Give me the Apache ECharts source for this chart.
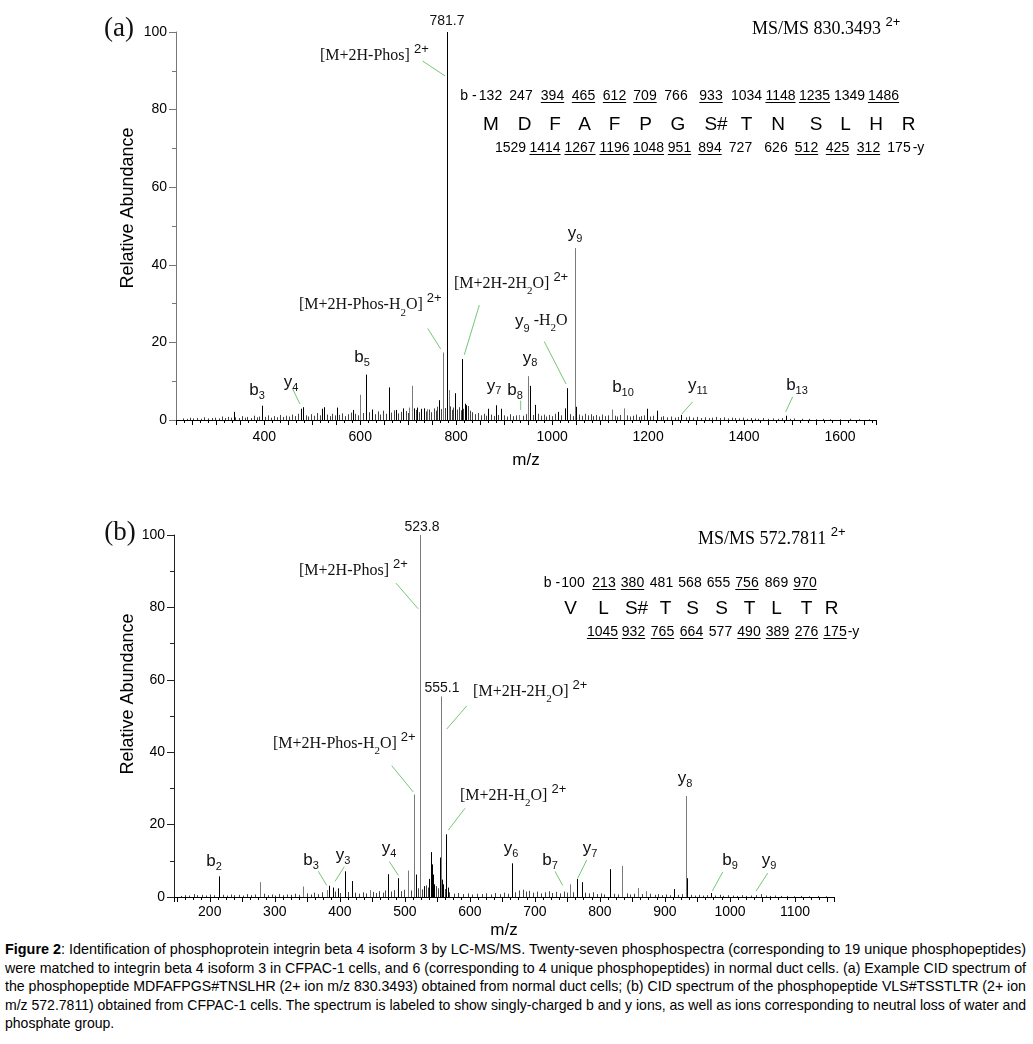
<!DOCTYPE html>
<html><head><meta charset="utf-8">
<script src="https://cdn.jsdelivr.net/npm/echarts@6/dist/echarts.min.js"></script>
<style>
html,body{margin:0;padding:0;background:#fff;}
#main{position:absolute;left:0;top:0;width:1033px;height:940px;}
#cap{position:absolute;left:5px;top:940px;width:1021px;font-family:"Liberation Sans Narrow","Arial Narrow","Liberation Sans",Arial,sans-serif;font-size:15px;line-height:18.5px;color:#000;}
#cap div{white-space:nowrap;height:18.5px;}
#cap span{display:inline-block;transform-origin:0 50%;}
</style></head>
<body>
<div id="main"></div>
<div id="cap">
<div><span><b>Figure 2</b>: Identification of phosphoprotein integrin beta 4 isoform 3 by LC-MS/MS. Twenty-seven phosphospectra (corresponding to 19 unique phosphopeptides)</span></div>
<div><span>were matched to integrin beta 4 isoform 3 in CFPAC-1 cells, and 6 (corresponding to 4 unique phosphopeptides) in normal duct cells. (a) Example CID spectrum of</span></div>
<div><span>the phosphopeptide MDFAFPGS#TNSLHR (2+ ion m/z 830.3493) obtained from normal duct cells; (b) CID spectrum of the phosphopeptide VLS#TSSTLTR (2+ ion</span></div>
<div><span>m/z 572.7811) obtained from CFPAC-1 cells. The spectrum is labeled to show singly-charged b and y ions, as well as ions corresponding to neutral loss of water and</span></div>
<div><span>phosphate group.</span></div>
</div>
<script>
const FS = '"Liberation Sans", Arial, sans-serif';
const FR = '"Liberation Serif", "Times New Roman", serif';

// ---------- Panel (a) spectrum: [m/z, relative abundance] ----------
const peaksA = [[336,2.1],[396,3.7],[477,2.9],[481,3.3],[520,2.9],[524,3.3],[551,3.2],[585,2.6],[613,11.7],[625,2.7],[659,8.4],[674,2.6],[690,3.0],[712,3.0],[718,3.2],[726,2.8],[733,3.0],[765,5.1],[781.7,100],[798.5,6.9],[812.4,15.7],[818,4.2],[821,3.8],[867,2.9],[882,3.8],[894,2.9],[953,8.8],[965,3.9],[1013,2.1],[1026,3.0],[1030,8.2],[1050,3.4],[1197,2.9],[1218,2.4],[1269,1.3],[1487,1.1]];
const grayPeaksA = [[600.5,6.5],[702,3.2],[708,8.8],[740,2.8],[773.5,17.4],[784.6,7.7],[930,1.3],[950.5,11.3],[1048,44.3],[1124,2.7],[1150.7,3.0]];
const noiseA = [[230,0.4],[238,0.3],[245,0.6],[252,0.4],[260,0.5],[268,0.3],[275,0.7],[283,0.4],[290,0.5],[298,0.6],[305,0.4],[312,0.9],[318,0.5],[325,0.8],[331,0.6],[340,0.7],[347,0.5],[353,1.0],[359,0.6],[365,0.8],[372,0.5],[378,1.1],[385,0.7],[390,0.9],[402,0.8],[408,1.2],[414,0.6],[420,1.0],[427,0.7],[433,1.3],[440,0.8],[446,1.1],[452,0.9],[458,1.4],[464,1.0],[470,1.6],[486,1.2],[492,0.9],[498,1.5],[504,1.1],[510,1.8],[516,1.2],[530,1.4],[536,1.0],[542,1.6],[547,1.2],[556,1.3],[562,1.7],[568,1.0],[574,1.5],[580,1.9],[590,1.6],[595,1.2],[606,1.8],[618,2.0],[630,1.5],[636,2.2],[642,1.4],[648,2.4],[653,1.6],[665,1.9],[670,2.5],[679,1.7],[684,2.1],[695,2.3],[700,1.8],[716,2.6],[722,2.0],[727,2.9],[738,2.2],[743,2.7],[748,2.0],[753,3.0],[757,2.4],[761,3.4],[769,2.8],[777,3.1],[788,3.5],[791,2.6],[794,3.2],[802,2.7],[806,3.3],[809,2.5],[815,2.9],[824,3.6],[828,2.4],[833,2.0],[840,1.5],[846,1.8],[852,1.2],[858,1.6],[862,1.1],[873,1.4],[878,1.0],[888,1.3],[900,1.2],[906,0.9],[912,1.5],[918,1.0],[924,1.2],[940,1.1],[945,1.5],[960,1.3],[970,1.6],[976,1.1],[982,1.4],[988,0.9],[994,1.3],[1000,1.0],[1006,1.6],[1019,1.2],[1038,1.5],[1044,1.0],[1056,1.4],[1062,1.1],[1068,1.6],[1074,1.2],[1080,1.5],[1086,1.0],[1092,1.3],[1098,0.9],[1104,1.4],[1110,1.0],[1116,1.2],[1130,1.1],[1136,0.9],[1142,1.3],[1156,1.2],[1162,0.9],[1168,1.1],[1174,1.4],[1180,0.8],[1186,1.0],[1192,1.2],[1204,0.9],[1210,1.1],[1226,0.8],[1232,1.0],[1240,0.7],[1248,0.9],[1256,0.6],[1262,0.8],[1278,0.7],[1286,0.9],[1294,0.6],[1302,0.8],[1310,0.5],[1318,0.7],[1326,0.5],[1334,0.6],[1342,0.8],[1350,0.5],[1358,0.7],[1366,0.4],[1374,0.6],[1382,0.5],[1390,0.4],[1398,0.6],[1406,0.3],[1414,0.5],[1422,0.4],[1430,0.3],[1440,0.5],[1450,0.3],[1460,0.4],[1470,0.3],[1480,0.5],[1495,0.3],[1505,0.4],[1520,0.3],[1535,0.3],[1550,0.2],[1565,0.3],[1580,0.2],[1600,0.2],[1620,0.3],[1640,0.2],[1660,0.2]];

// ---------- Panel (b) spectrum ----------
const peaksB = [[213.5,5.7],[383.8,3.1],[389,2.6],[397.6,2.4],[407.8,7.1],[418,4.4],[474.4,6.3],[489.8,5.2],[517,6.2],[529,3.0],[537.5,5.0],[540,12.4],[541.5,9.0],[543,6.2],[545.6,3.5],[553.9,10.9],[556.8,4.8],[559,3.5],[563.2,17.3],[565.7,2.6],[664.1,9.3],[765.5,5.0],[771.7,4.1],[815.2,7.7],[913.6,2.2],[934,5.2],[970.8,1.1]];
const grayPeaksB = [[277,4.1],[343.8,2.9],[379.7,1.9],[446,1.9],[505,7.3],[514.5,28.3],[523.8,100],[555.1,55.4],[753.7,3.5],[834.7,8.6],[858.7,2.5],[871,1.6],[932,27.9]];
const noiseB = [[155,0.3],[162,0.5],[168,0.4],[175,0.8],[181,0.5],[188,0.6],[194,0.4],[200,0.7],[207,0.5],[220,0.6],[226,0.4],[232,0.7],[238,0.5],[245,0.6],[251,0.4],[257,0.8],[263,0.5],[270,0.7],[283,0.9],[289,0.5],[295,0.7],[301,0.4],[307,0.8],[313,0.5],[319,0.7],[325,0.6],[331,0.9],[337,0.6],[349,1.0],[355,0.7],[361,1.2],[367,0.8],[373,1.3],[393,1.5],[401,1.1],[412,1.4],[424,1.2],[430,0.9],[436,1.3],[441,1.0],[451,1.4],[456,1.1],[461,1.6],[466,1.2],[470,1.8],[479,1.5],[484,1.9],[494,1.6],[499,2.0],[509,1.8],[520,2.4],[526,2.1],[532,3.2],[535,2.6],[548,3.0],[551,2.4],[561,2.2],[568,1.3],[575,0.9],[582,1.1],[590,0.8],[597,1.0],[604,0.7],[611,0.9],[618,0.8],[625,1.0],[632,0.7],[639,1.1],[646,0.8],[652,1.2],[658,0.9],[670,1.3],[676,1.8],[681,2.0],[686,1.5],[691,1.7],[697,1.2],[703,1.5],[709,1.0],[715,1.3],[721,1.6],[727,1.1],[733,1.4],[739,1.0],[745,1.5],[749,1.2],[759,1.3],[777,1.2],[783,1.0],[789,1.3],[795,0.8],[801,1.0],[807,0.7],[822,0.9],[828,0.7],[841,1.0],[847,0.7],[853,0.9],[864,0.8],[877,0.9],[884,0.6],[890,0.8],[896,0.5],[902,0.7],[908,0.5],[920,0.6],[926,0.8],[940,0.6],[946,0.4],[952,0.6],[958,0.4],[964,0.5],[977,0.4],[984,0.6],[990,0.3],[997,0.5],[1004,0.4],[1011,0.3],[1018,0.5],[1025,0.3],[1032,0.4],[1040,0.5],[1048,0.8],[1055,0.4],[1062,0.3],[1070,0.4],[1078,0.3],[1088,0.3],[1098,0.2],[1110,0.3],[1122,0.2],[1135,0.3],[1148,0.2]];

// ---------- fragment ladders ----------
const bIonsA = ['132','247','394','465','612','709','766','933','1034','1148','1235','1349','1486'];
const bUnderA = [0,0,1,1,1,1,0,1,0,1,1,0,1];
const residuesA = ['M','D','F','A','F','P','G','S#','T','N','S','L','H','R'];
const yIonsA = ['1529','1414','1267','1196','1048','951','894','727','626','512','425','312','175'];
const yUnderA = [0,1,1,1,1,1,1,0,0,1,1,1,0];
const bIonsB = ['100','213','380','481','568','655','756','869','970'];
const bUnderB = [0,1,1,0,0,0,1,0,1];
const residuesB = ['V','L','S#','T','S','S','T','L','T','R'];
const yIonsB = ['1045','932','765','664','577','490','389','276','175'];
const yUnderB = [1,1,1,1,0,1,1,1,1];

// ---------- layout (pixel positions of the ladder texts) ----------
const layA = {bY:96, rY:125, yY:148, bPre:468.5, ySuf:918.5,
  bX:[490.5,521,552.5,583.5,614.5,645,676,711,746.5,780.5,814.5,849.5,883.5],
  rX:[491,524.5,555,584.5,614.5,645.5,678,716,746.5,778,816,845.5,876,908.5],
  yX:[510.5,545,580,614.5,648.5,679.5,710,740.5,776,806.5,837.5,868.5,899]};
const layB = {bY:583, rY:609, yY:632, bPre:552, ySuf:853.5,
  bX:[573,604,632.5,661.5,690,718.5,747,776.5,805],
  rX:[570.5,603.5,636.5,665.5,692.5,721.5,749.5,776.5,806.5,831.5],
  yX:[602.5,633.5,662.5,691.5,720.5,749,777.5,806.5,835]};

// ---------- annotations (anchored in data coordinates) ----------
const annotA = [
  {at:[780.8,102.8], text:'{n|781.7}'},
  {at:[516.1,93.8], text:'{t|[M+2H-Phos]} {s|2+}', align:'left'},
  {at:[472.4,29.6], text:'{t|[M+2H-Phos-H}{u|2}{t|O]} {s|2+}', align:'left'},
  {at:[795.4,35.1], text:'{t|[M+2H-2H}{u|2}{t|O]} {s|2+}', align:'left'},
  {at:[922.6,25.5], text:'{i|y}{j|9}{t| -H}{u|2}{t|O}', align:'left'},
  {at:[1048,48.2], text:'{i|y}{j|9}'},
  {at:[954.2,16.0], text:'{i|y}{j|8}'},
  {at:[922.6,7.7], text:'{i|b}{j|8}'},
  {at:[878.8,8.8], text:'{i|y}{j|7}'},
  {at:[603.7,16.2], text:'{i|b}{j|5}'},
  {at:[384.8,7.7], text:'{i|b}{j|3}'},
  {at:[455.7,9.8], text:'{i|y}{j|4}'},
  {at:[1147.7,8.5], text:'{i|b}{j|10}'},
  {at:[1304,9.0], text:'{i|y}{j|11}'},
  {at:[1510.3,9.0], text:'{i|b}{j|13}'}
];
const leadA = [[730.2,92.5,776.6,88.7],[740.6,23.6,767.7,18.3],[848.2,29.6,816.9,16.8],[983.6,20.2,1028.9,9.3],
  [934.4,5.0,934.4,2.6],[459.2,8.0,474.4,4.1],[1292.9,4.7,1270,1.5],[1501.3,6.0,1486.7,2.1]];
const annotB = [
  {at:[526.4,102.2], text:'{n|523.8}'},
  {at:[557.2,57.7], text:'{n|555.1}'},
  {at:[337.3,90.1], text:'{t|[M+2H-Phos]} {s|2+}', align:'left'},
  {at:[605.0,56.6], text:'{t|[M+2H-2H}{u|2}{t|O]} {s|2+}', align:'left'},
  {at:[297.2,42.3], text:'{t|[M+2H-Phos-H}{u|2}{t|O]} {s|2+}', align:'left'},
  {at:[584.9,28.0], text:'{t|[M+2H-H}{u|2}{t|O]} {s|2+}', align:'left'},
  {at:[206.6,9.9], text:'{i|b}{j|2}'},
  {at:[355.7,10.2], text:'{i|b}{j|3}'},
  {at:[404.9,11.5], text:'{i|y}{j|3}'},
  {at:[475.6,13.5], text:'{i|y}{j|4}'},
  {at:[663.3,13.5], text:'{i|y}{j|6}'},
  {at:[723.3,10.2], text:'{i|b}{j|7}'},
  {at:[784.8,13.5], text:'{i|y}{j|7}'},
  {at:[930.8,32.7], text:'{i|y}{j|8}'},
  {at:[1000.0,10.2], text:'{i|b}{j|9}'},
  {at:[1060.0,10.2], text:'{i|y}{j|9}'}
];
const leadB = [[486.4,86.7,520.7,79.6],[595.2,52.8,564.4,46.4],[479.8,36.3,513.0,29.0],[592.5,24.5,566.9,18.5],
  [366.9,7.1,379.9,3.2],[406.9,8.4,392.6,4.3],[476.1,9.8,490.0,6.0],[730.9,7.1,742.8,3.2],[779.7,10.2,765.9,5.2],
  [988.9,6.9,972.9,1.7],[1058.0,6.6,1040.1,1.6]];

const RICH = {
  t:{fontFamily:FR, fontSize:16, lineHeight:26, color:'#111'},
  u:{fontFamily:FR, fontSize:11, lineHeight:17, verticalAlign:'bottom', color:'#111'},
  s:{fontFamily:FS, fontSize:13, lineHeight:13, verticalAlign:'top', color:'#000'},
  i:{fontFamily:FS, fontSize:17, lineHeight:22, color:'#000'},
  j:{fontFamily:FS, fontSize:11, lineHeight:13, verticalAlign:'bottom', color:'#000'},
  n:{fontFamily:FS, fontSize:14, lineHeight:16, color:'#000'},
  m:{fontFamily:FR, fontSize:18, lineHeight:26, color:'#111'}
};

function stick(color){
  return function(params, api){
    const x = api.value(0), y = api.value(1);
    const p0 = api.coord([x, 0]), p1 = api.coord([x, y]);
    const px = Math.round(p0[0]) + 0.5;
    return {type:'line', silent:true, shape:{x1:px, y1:p0[1], x2:px, y2:p1[1]}, style:{stroke:color, lineWidth:1}};
  };
}
function stickSeries(data, color, gi, z){
  return {type:'custom', xAxisIndex:gi, yAxisIndex:gi, data:data, encode:{x:0, y:1}, renderItem:stick(color), z:z, animation:false};
}
function labelSeries(list, gi){
  return {type:'custom', xAxisIndex:gi, yAxisIndex:gi, z:10, animation:false,
    data:list.map((l, i) => [l.at[0], l.at[1], i]), encode:{x:0, y:1},
    renderItem:function(params, api){
      const l = list[api.value(2)];
      const p = api.coord([api.value(0), api.value(1)]);
      return {type:'text', silent:true, x:p[0], y:p[1], style:{text:l.text, rich:RICH, align:l.align || 'center', verticalAlign:'middle', fontFamily:FR, fontSize:16, fill:'#111'}};
    }};
}
function leaderSeries(list, gi){
  return {type:'custom', xAxisIndex:gi, yAxisIndex:gi, z:9, animation:false,
    data:list, encode:{x:[0,2], y:[1,3]},
    renderItem:function(params, api){
      const a = api.coord([api.value(0), api.value(1)]);
      const b = api.coord([api.value(2), api.value(3)]);
      return {type:'line', silent:true, shape:{x1:a[0], y1:a[1], x2:b[0], y2:b[1]}, style:{stroke:'#74c874', lineWidth:1}};
    }};
}

const ctx = document.createElement('canvas').getContext('2d');
function textW(s, font){ ctx.font = font; return ctx.measureText(s).width; }

function ladderGraphics(bIons, bUnder, residues, yIons, yUnder, lay){
  const g = [];
  const nf = '14px ' + FS;
  const num = (s, x, y, under) => {
    g.push({type:'text', x:x, y:y, style:{text:s, fontFamily:FS, fontSize:14, fill:'#000', align:'center', verticalAlign:'middle'}});
    if (under){
      const w = textW(s, nf);
      g.push({type:'line', shape:{x1:x - w/2, y1:y + 6.5, x2:x + w/2, y2:y + 6.5}, style:{stroke:'#000', lineWidth:1}});
    }
  };
  num('b -', lay.bPre, lay.bY, false);
  bIons.forEach((s, i) => num(s, lay.bX[i], lay.bY, bUnder[i]));
  residues.forEach((s, i) => g.push({type:'text', x:lay.rX[i], y:lay.rY, style:{text:s, fontFamily:FS, fontSize:19, fill:'#000', align:'center', verticalAlign:'middle'}}));
  yIons.forEach((s, i) => num(s, lay.yX[i], lay.yY, yUnder[i]));
  num('-y', lay.ySuf, lay.yY, false);
  return g;
}

function xAxisCfg(gi, min, max, split, labelEvery, nameGap, labelMargin){
  return {type:'value', gridIndex:gi, min:min, max:max, minInterval:50, maxInterval:50, splitNumber:30,
    name:'m/z', nameLocation:'middle', nameGap:nameGap, nameTextStyle:{fontFamily:FS, fontSize:17, color:'#000'},
    axisLine:{show:true, onZero:false, lineStyle:{color:'#000', width:1}},
    axisTick:{show:true, length:5, lineStyle:{color:'#000'}},
    minorTick:{show:true, splitNumber:split, length:3, lineStyle:{color:'#000'}},
    splitLine:{show:false}, minorSplitLine:{show:false},
    axisLabel:{fontFamily:FS, fontSize:14, color:'#000', margin:labelMargin, showMinLabel:true, showMaxLabel:true,
      formatter:v => (Math.abs(v % labelEvery) < 1e-6 ? String(v) : '')}};
}
function yAxisCfg(gi, color){
  return {type:'value', gridIndex:gi, min:0, max:100, interval:20,
    axisLine:{show:true, lineStyle:{color:color, width:1}},
    axisTick:{show:true, length:7, lineStyle:{color:color}},
    minorTick:{show:true, splitNumber:2, length:4, lineStyle:{color:color}},
    splitLine:{show:false},
    axisLabel:{fontFamily:FS, fontSize:14, color:'#000', margin:9}};
}

const graphic = [
  {type:'text', x:119, y:29, style:{text:'(a)', fontFamily:FR, fontSize:27, fill:'#111', align:'center', verticalAlign:'middle'}},
  {type:'text', x:120, y:533, style:{text:'(b)', fontFamily:FR, fontSize:27, fill:'#111', align:'center', verticalAlign:'middle'}},
  {type:'text', x:128, y:208, rotation:Math.PI/2, style:{text:'Relative Abundance', fontFamily:FS, fontSize:18, fill:'#000', align:'center', verticalAlign:'middle'}},
  {type:'text', x:128, y:694, rotation:Math.PI/2, style:{text:'Relative Abundance', fontFamily:FS, fontSize:18, fill:'#000', align:'center', verticalAlign:'middle'}},
  {type:'text', x:752, y:29, style:{text:'{m|MS/MS 830.3493} {s|2+}', rich:RICH, fontFamily:FR, fontSize:18, align:'left', verticalAlign:'middle'}},
  {type:'text', x:698, y:539, style:{text:'{m|MS/MS 572.7811} {s|2+}', rich:RICH, fontFamily:FR, fontSize:18, align:'left', verticalAlign:'middle'}}
].concat(ladderGraphics(bIonsA, bUnderA, residuesA, yIonsA, yUnderA, layA))
 .concat(ladderGraphics(bIonsB, bUnderB, residuesB, yIonsB, yUnderB, layB));

const chart = echarts.init(document.getElementById('main'), null, {renderer:'canvas'});
chart.setOption({
  animation:false,
  backgroundColor:'#fff',
  grid:[
    {left:176, top:32, width:700, height:388},
    {left:174, top:535, width:660, height:364}
  ],
  xAxis:[xAxisCfg(0, 216, 1675, 3, 200, 32, 10), xAxisCfg(1, 145, 1160, 4, 100, 25, 8)],
  yAxis:[yAxisCfg(0, '#777'), yAxisCfg(1, '#222')],
  graphic:graphic,
  series:[
    stickSeries(noiseA, '#444', 0, 2),
    stickSeries(grayPeaksA, '#7a7a7a', 0, 3),
    stickSeries(peaksA, '#000', 0, 4),
    labelSeries(annotA, 0),
    leaderSeries(leadA, 0),
    stickSeries(noiseB, '#444', 1, 2),
    stickSeries(grayPeaksB, '#7a7a7a', 1, 3),
    stickSeries(peaksB, '#000', 1, 4),
    labelSeries(annotB, 1),
    leaderSeries(leadB, 1)
  ]
});

// fit each caption line to the full text width (narrow, justified look)
(function(){
  const spans = Array.from(document.querySelectorAll('#cap span'));
  let k = 1;
  spans.forEach((s, i) => {
    const w = s.getBoundingClientRect().width;
    if (i < spans.length - 1) k = 1021 / w;
    s.style.transform = 'scaleX(' + k + ')';
  });
})();
</script>
</body></html>
